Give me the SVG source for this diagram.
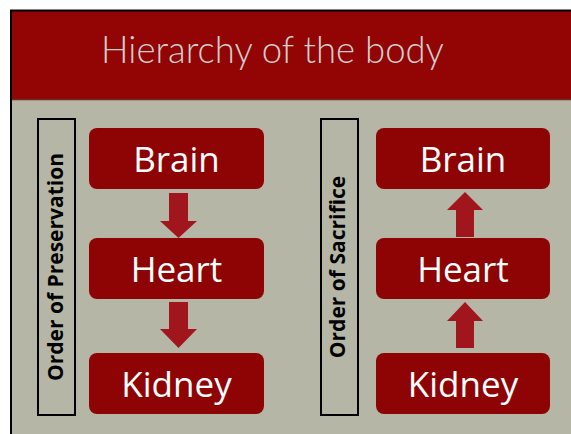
<svg xmlns="http://www.w3.org/2000/svg" width="571" height="434" viewBox="0 0 571 434">
<defs>
<style>
.node rect{fill:#8e0303;}
.node text{fill:#ffffff;font-family:"Open Sans","Noto Sans",sans-serif;font-size:35px;text-anchor:middle;}
.lbl rect{fill:none;stroke:#000;stroke-width:2;}
.lbl text{fill:#000;font-family:"Open Sans","Noto Sans",sans-serif;font-weight:bold;font-size:21px;text-anchor:middle;}
.arrow{fill:#a0161c;}
</style>
</defs>
<rect x="0" y="0" width="571" height="434" fill="#ffffff"/>
<rect x="10" y="10" width="561" height="424" fill="#b6b6a6"/>
<rect x="10" y="11" width="561" height="88" fill="#930404"/>
<line x1="10" y1="99.5" x2="571" y2="99.5" stroke="#6e2a20" stroke-width="1.5"/>
<line x1="10" y1="10.5" x2="571" y2="10.5" stroke="#000" stroke-width="2"/>
<line x1="11" y1="10" x2="11" y2="434" stroke="#000" stroke-width="2"/>
<g id="title"><text x="272.5" y="63" fill="#cfcfcf" font-family="Lato,'Open Sans',sans-serif" font-weight="300" font-size="36.5" text-anchor="middle">Hierarchy of the body</text></g>
<g id="label-preservation" class="lbl"><rect x="38" y="119" width="37" height="296"/><text transform="translate(63,267) rotate(-90)">Order of Preservation</text></g>
<g id="label-sacrifice" class="lbl"><rect x="321" y="119" width="37" height="296"/><text transform="translate(345,267) rotate(-90)">Order of Sacrifice</text></g>
<g id="p-brain" class="node"><rect x="89" y="128" width="175" height="61" rx="8"/><text x="176.5" y="172">Brain</text></g>
<g id="p-heart" class="node"><rect x="89" y="238" width="175" height="61" rx="8"/><text x="176.5" y="282">Heart</text></g>
<g id="p-kidney" class="node"><rect x="89" y="353" width="175" height="61" rx="8"/><text x="176.5" y="397">Kidney</text></g>
<g id="s-brain" class="node"><rect x="376" y="128" width="174" height="61" rx="8"/><text x="463" y="172">Brain</text></g>
<g id="s-heart" class="node"><rect x="376" y="238" width="174" height="61" rx="8"/><text x="463" y="282">Heart</text></g>
<g id="s-kidney" class="node"><rect x="376" y="353" width="174" height="61" rx="8"/><text x="463" y="397">Kidney</text></g>
<g id="connectors">
<polygon class="arrow" points="169,193 188,193 188,221 197,221 178.5,238 160,221 169,221"/>
<polygon class="arrow" points="169,302 188,302 188,329 197,329 178.5,348 160,329 169,329"/>
<polygon class="arrow" points="456,237 474,237 474,210 483,210 465,192 447,210 456,210"/>
<polygon class="arrow" points="456,348 474,348 474,321 483,321 465,302 447,321 456,321"/>
</g>
</svg>
